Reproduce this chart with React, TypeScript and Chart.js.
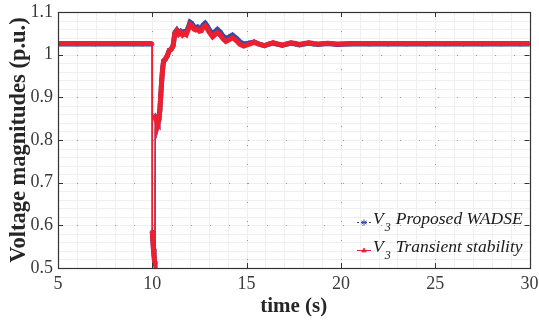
import React, { useEffect, useRef } from "react";
import { Chart, registerables } from "chart.js";

Chart.register(...registerables);

// Simulation time (s)
const time = [
  5, 6, 7, 8, 9, 9.5, 9.99,
  10.0, 10.03, 10.06, 10.09, 10.12, 10.14,
  10.16, 10.2, 10.25, 10.3, 10.35, 10.4, 10.45, 10.5, 10.55, 10.6, 10.7, 10.8, 10.9,
  11.0, 11.1, 11.2, 11.3, 11.4, 11.5, 11.6, 11.7, 11.8, 11.9,
  12.0, 12.1, 12.2, 12.3, 12.4, 12.5, 12.6, 12.7, 12.8, 12.9,
  13.0, 13.1, 13.2, 13.3, 13.45, 13.6, 13.75, 13.9,
  14.05, 14.25, 14.45, 14.65, 14.85, 15.1, 15.4, 15.7, 15.95,
  16.2, 16.4, 16.65, 16.9, 17.1, 17.35, 17.6, 17.8,
  18.05, 18.3, 18.55, 18.8, 19.3, 19.8,
  20.5, 21.5, 22.5, 23.5, 24.5, 25.5, 26.5, 27.5, 28.5, 29.5, 30,
];

// V3 from the transient stability simulation (p.u.)
const v3Transient = [
  1.026, 1.026, 1.026, 1.026, 1.026, 1.026, 1.026,
  0.585, 0.565, 0.545, 0.53, 0.515, 0.512,
  0.858, 0.848, 0.843, 0.84, 0.848, 0.87, 0.905, 0.94, 0.968, 0.985, 0.99, 0.998, 1.01,
  1.012, 1.02, 1.05, 1.056, 1.048, 1.052, 1.046, 1.05, 1.047, 1.058,
  1.071, 1.068, 1.06, 1.058, 1.06, 1.055, 1.056, 1.064, 1.068, 1.062,
  1.054, 1.048, 1.042, 1.046, 1.052, 1.046, 1.037, 1.031,
  1.034, 1.04, 1.033, 1.024, 1.02, 1.024, 1.029, 1.024, 1.021,
  1.025, 1.028, 1.025, 1.022, 1.025, 1.028, 1.026, 1.024,
  1.026, 1.028, 1.026, 1.025, 1.027, 1.025,
  1.026, 1.026, 1.026, 1.026, 1.026, 1.026, 1.026, 1.026, 1.026, 1.026, 1.026,
];

// V3 estimated by the proposed WADSE (p.u.)
const v3Wadse = [
  1.025, 1.025, 1.025, 1.025, 1.025, 1.025, 1.025,
  0.585, 0.565, 0.545, 0.53, 0.515, 0.512,
  0.858, 0.848, 0.843, 0.84, 0.848, 0.87, 0.905, 0.94, 0.968, 0.985, 0.99, 0.998, 1.01,
  1.013, 1.021, 1.052, 1.058, 1.051, 1.055, 1.05, 1.054, 1.052, 1.063,
  1.076, 1.073, 1.066, 1.063, 1.065, 1.061, 1.062, 1.07, 1.074, 1.068,
  1.06, 1.054, 1.049, 1.053, 1.059, 1.053, 1.044, 1.038,
  1.041, 1.046, 1.039, 1.03, 1.025, 1.027, 1.03, 1.024, 1.021,
  1.025, 1.027, 1.024, 1.022, 1.024, 1.027, 1.025, 1.023,
  1.025, 1.027, 1.025, 1.024, 1.026, 1.024,
  1.025, 1.025, 1.025, 1.025, 1.025, 1.025, 1.025, 1.025, 1.025, 1.025, 1.025,
];

const xTicks = [5, 10, 15, 20, 25, 30];
const yTicks = [0.5, 0.6, 0.7, 0.8, 0.9, 1.0, 1.1];

const RED = "rgb(236, 32, 48)";
const BLUE = "rgb(45, 78, 168)";
const AXIS = "#333333";
const SERIF = "'Liberation Serif', 'Times New Roman', serif";

// MATLAB-like box: minor grid, dotted major grid, inward ticks on all sides
const boxPlugin = {
  id: "matlabBox",
  beforeDatasetsDraw(chart: any) {
    const { ctx, chartArea: a, scales } = chart;
    const xs = scales.x;
    const ys = scales.y;
    ctx.save();
    ctx.lineWidth = 1;
    ctx.strokeStyle = "#efefef";
    for (let v = 5; v <= 30; v += 1) {
      const px = Math.round(xs.getPixelForValue(v)) + 0.5;
      ctx.beginPath();
      ctx.moveTo(px, a.top);
      ctx.lineTo(px, a.bottom);
      ctx.stroke();
    }
    for (let i = 0; i <= 30; i++) {
      const py = Math.round(ys.getPixelForValue(0.5 + i * 0.02)) + 0.5;
      ctx.beginPath();
      ctx.moveTo(a.left, py);
      ctx.lineTo(a.right, py);
      ctx.stroke();
    }
    ctx.strokeStyle = "#9a9a9a";
    ctx.setLineDash([1, 18]);
    for (const v of xTicks) {
      const px = Math.round(xs.getPixelForValue(v)) + 0.5;
      ctx.beginPath();
      ctx.moveTo(px, a.top);
      ctx.lineTo(px, a.bottom);
      ctx.stroke();
    }
    for (const v of yTicks) {
      const py = Math.round(ys.getPixelForValue(v)) + 0.5;
      ctx.beginPath();
      ctx.moveTo(a.left, py);
      ctx.lineTo(a.right, py);
      ctx.stroke();
    }
    ctx.restore();
  },
  afterDatasetsDraw(chart: any) {
    const { ctx, chartArea: a, scales } = chart;
    const xs = scales.x;
    const ys = scales.y;
    const tl = 5;
    ctx.save();
    ctx.strokeStyle = AXIS;
    ctx.lineWidth = 1;
    ctx.beginPath();
    for (const v of xTicks) {
      const px = Math.round(xs.getPixelForValue(v)) + 0.5;
      ctx.moveTo(px, a.bottom);
      ctx.lineTo(px, a.bottom - tl);
      ctx.moveTo(px, a.top);
      ctx.lineTo(px, a.top + tl);
    }
    for (const v of yTicks) {
      const py = Math.round(ys.getPixelForValue(v)) + 0.5;
      ctx.moveTo(a.left, py);
      ctx.lineTo(a.left + tl, py);
      ctx.moveTo(a.right, py);
      ctx.lineTo(a.right - tl, py);
    }
    ctx.stroke();
    ctx.lineWidth = 1.2;
    ctx.strokeRect(Math.round(a.left) + 0.5, Math.round(a.top) + 0.5, Math.round(a.right - a.left), Math.round(a.bottom - a.top));
    ctx.restore();
  },
};

// thin line on the steep fault jumps, thick band elsewhere
const segWidth = (ctx: any) => (Math.abs(ctx.p1.y - ctx.p0.y) > 25 ? 1.5 : 5);

export default function App() {
  const canvasRef = useRef<HTMLCanvasElement | null>(null);

  useEffect(() => {
    document.body.style.margin = "0";
    const canvas = canvasRef.current;
    if (!canvas) return;
    const chart = new Chart(canvas, {
      type: "line",
      data: {
        datasets: [
          {
            label: "V3 Transient stability",
            data: time.map((t, i) => ({ x: t, y: v3Transient[i] })),
            borderColor: RED,
            backgroundColor: RED,
            borderWidth: 5,
            pointStyle: "triangle",
            pointRadius: 1.8,
            pointBorderWidth: 1,
            pointBorderColor: RED,
            segment: { borderWidth: segWidth },
            order: 1,
          },
          {
            label: "V3 Proposed WADSE",
            data: time.map((t, i) => ({ x: t, y: v3Wadse[i] })),
            borderColor: BLUE,
            backgroundColor: BLUE,
            borderWidth: 5,
            pointStyle: "star",
            pointRadius: 2.5,
            pointBorderWidth: 1,
            pointBorderColor: BLUE,
            segment: { borderWidth: segWidth },
            order: 2,
          },
        ],
      },
      options: {
        animation: false,
        responsive: false,
        maintainAspectRatio: false,
        layout: { padding: { top: 12, right: 9.5, left: 0, bottom: 0 } },
        plugins: { legend: { display: false }, tooltip: { enabled: false } },
        elements: { line: { tension: 0 } },
        scales: {
          x: {
            type: "linear",
            min: 5,
            max: 30,
            afterFit: (s: any) => {
              s.height = 56;
              s.paddingLeft = 0;
              s.paddingRight = 0;
            },
            afterBuildTicks: (s: any) => {
              s.ticks = xTicks.map((v) => ({ value: v }));
            },
            grid: { display: false, drawTicks: false },
            border: { display: false },
            ticks: {
              padding: 5,
              color: "#3a3a3a",
              font: { family: SERIF, size: 18 },
              maxRotation: 0,
              autoSkip: false,
              callback: (v: any) => String(v),
            },
            title: {
              display: true,
              text: "time (s)",
              color: "#262626",
              font: { family: SERIF, size: 21, weight: "bold" },
              padding: { top: 0, bottom: 5 },
            },
          },
          y: {
            type: "linear",
            min: 0.5,
            max: 1.1,
            afterFit: (s: any) => {
              s.width = 58;
              s.paddingTop = 0;
              s.paddingBottom = 0;
            },
            afterBuildTicks: (s: any) => {
              s.ticks = yTicks.map((v) => ({ value: v }));
            },
            grid: { display: false, drawTicks: false },
            border: { display: false },
            ticks: {
              padding: 5,
              color: "#3a3a3a",
              font: { family: SERIF, size: 18 },
              autoSkip: false,
              callback: (v: any) => String(Number(Number(v).toFixed(1))),
            },
            title: {
              display: true,
              text: "Voltage magnitudes (p.u.)",
              color: "#262626",
              font: { family: SERIF, size: 22.5, weight: "bold" },
              padding: { top: 6, bottom: 0 },
            },
          },
        },
      },
      plugins: [boxPlugin],
    });
    return () => chart.destroy();
  }, []);

  const textStyle: React.CSSProperties = {
    position: "absolute",
    left: 373,
    fontFamily: SERIF,
    fontStyle: "italic",
    fontSize: 17.5,
    lineHeight: "17px",
    color: "#1a1a1a",
    whiteSpace: "nowrap",
  };
  const subStyle: React.CSSProperties = {
    fontSize: 12,
    position: "relative",
    top: 7,
    marginLeft: 1,
    marginRight: 5,
  };

  return (
    <div style={{ position: "relative", width: 539, height: 324 }}>
      <canvas ref={canvasRef} width={539} height={324} style={{ display: "block" }} />
      <svg style={{ position: "absolute", left: 355, top: 215, overflow: "visible" }} width={18} height={42}>
        <line x1={2} y1={7.5} x2={16} y2={7.5} stroke={BLUE} strokeWidth={1} strokeDasharray="2 2" />
        <path d="M9 4.5 L9 10.5 M6.4 6 L11.6 9 M6.4 9 L11.6 6" stroke={BLUE} strokeWidth={1} />
        <line x1={2} y1={35.5} x2={16} y2={35.5} stroke={RED} strokeWidth={1} />
        <path d="M9 33 L11.3 37 L6.7 37 Z" fill={RED} stroke={RED} strokeWidth={0.8} />
      </svg>
      <div style={{ ...textStyle, top: 210 }}>
        V<span style={subStyle}>3</span>Proposed WADSE
      </div>
      <div style={{ ...textStyle, top: 238 }}>
        V<span style={subStyle}>3</span>Transient stability
      </div>
    </div>
  );
}
